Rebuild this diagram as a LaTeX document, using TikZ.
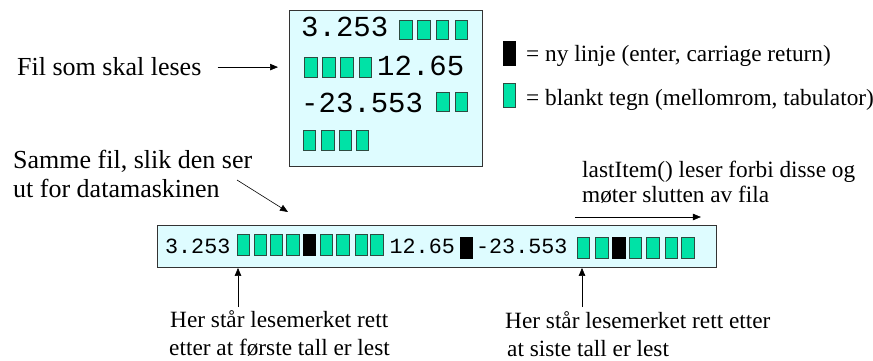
\documentclass[tikz,border=0pt]{standalone}
\usepackage{fontspec}
\setmainfont{Liberation Serif}
\newfontfamily\codefont{Liberation Mono}
\usetikzlibrary{arrows.meta}

\definecolor{filebg}{RGB}{222,252,255}
\definecolor{blankgreen}{RGB}{0,226,166}
\definecolor{blankedge}{RGB}{45,75,65}

\tikzset{
  filebox/.style={draw=black!80, fill=filebg, line width=0.9pt, inner sep=0, anchor=north west},
  blankch/.style={draw=blankedge, fill=blankgreen, line width=0.9pt},
  newlinech/.style={draw=black, fill=black, line width=0.5pt},
  pointer/.style={-{Triangle[length=8pt,width=6.5pt]}, line width=0.6pt},
  biglabel/.style={font=\fontsize{26}{30}\selectfont, anchor=base west, inner sep=0},
  smalllabel/.style={font=\fontsize{23.3}{28}\selectfont, anchor=base west, inner sep=0},
  bigcode/.style={font=\codefont\fontsize{29}{32}\selectfont, anchor=base west, inner sep=0},
  smallcode/.style={font=\codefont\fontsize{21.7}{26}\selectfont, anchor=base west, inner sep=0},
}

\begin{document}
\begin{tikzpicture}[x=1pt,y=-1pt]
\useasboundingbox (0,0) rectangle (873,361);

% ---------- the file as written in a text editor ----------
\node[filebox, minimum width=193pt, minimum height=156pt] (topfile) at (289,10) {};
\node[bigcode] (r1) at (301,37) {3.253};
\node[bigcode] (r2) at (377,75) {12.65};
\node[bigcode] (r3) at (301,112) {-23.553};
\foreach \x in {399.3,417.7,436,455}   \draw[blankch] (\x,20)   rectangle ++(12.7,19.5);
\foreach \x in {304.3,322.3,340.7,359} \draw[blankch] (\x,57.5) rectangle ++(12.7,19.8);
\foreach \x in {436.7,455}             \draw[blankch] (\x,92.5) rectangle ++(12.5,19.3);
\foreach \x in {303.3,321.7,339.3,356} \draw[blankch] (\x,130.7) rectangle ++(12.5,20);

\node[biglabel] (fil) at (17,76) {Fil som skal leses};
\draw[pointer] ([xshift=16pt]fil.east) -- ([xshift=-11pt]fil.east -| topfile.west);

% ---------- legend ----------
\draw[newlinech] (503,41) rectangle (515,65);
\node[smalllabel] (lgnl) at (526,62) {= ny linje (enter, carriage return)};
\draw[blankch] (503,83) rectangle (515,107);
\node[smalllabel] (lgbl) at (526,105) {= blankt tegn (mellomrom, tabulator)};

% ---------- the same file as one stream of characters ----------
\node[filebox, minimum width=559pt, minimum height=42pt] (strip) at (157,225) {};
\node[smallcode] (s1) at (165,253) {3.253};
\node[smallcode] (s2) at (389.5,253) {12.65};
\node[smallcode] (s3) at (476,253) {-23.553};
\foreach \x in {237.3,254,270,286.7,320,336.7,355,370.7}
  \draw[blankch] (\x,234) rectangle ++(12.5,21);
\draw[newlinech] (303.3,234) rectangle ++(12.3,21);
\draw[newlinech] (460.7,237) rectangle ++(11.6,21);
\foreach \x in {577.3,595.7,629.3,646.7,665,681.7}
  \draw[blankch] (\x,237) rectangle ++(12.5,21);
\draw[newlinech] (612.7,237) rectangle ++(12.3,21);

\node[biglabel] (samme1) at (13,168) {Samme fil, slik den ser};
\node[biglabel] (samme2) at (13,197) {ut for datamaskinen};
\coordinate (sammetail) at (237,180);
\draw[pointer] (sammetail) -- ([xshift=131pt,yshift=13pt]strip.north west);

\node[smalllabel] (last1) at (582,177) {lastItem() leser forbi disse og};
\node[smalllabel] (last2) at (582,202) {møter slutten av fila};
\draw[pointer] ([xshift=-142pt,yshift=8pt]strip.north east) -- ([xshift=-16pt,yshift=8pt]strip.north east);

% ---------- read cursor positions ----------
\node[smalllabel] (herA1) at (170,327) {Her står lesemerket rett};
\node[smalllabel] (herA2) at (169,355) {etter at første tall er lest};
\coordinate (markA) at (238,307);
\draw[pointer] (markA) -- (markA |- strip.south);

\node[smalllabel] (herB1) at (505,328) {Her står lesemerket rett etter};
\node[smalllabel] (herB2) at (507,356) {at siste tall er lest};
\coordinate (markB) at (582,307);
\draw[pointer] (markB) -- (markB |- strip.south);
\end{tikzpicture}
\end{document}
